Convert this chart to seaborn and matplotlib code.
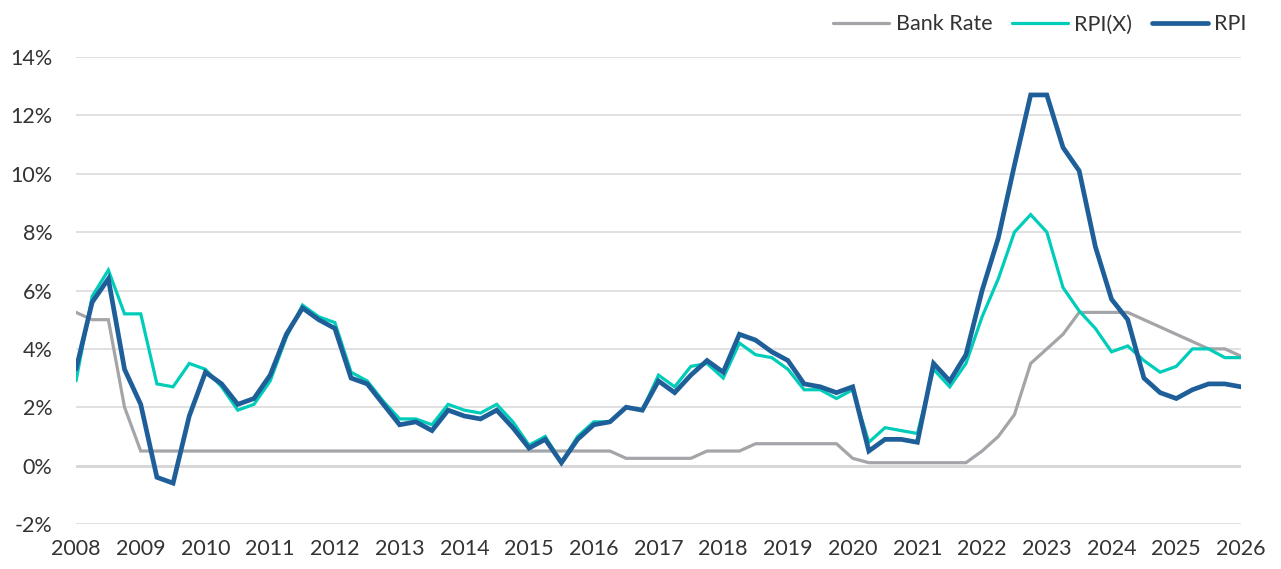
import pandas as pd
import matplotlib.pyplot as plt
import seaborn as sns

sns.set_style("white")
plt.rcParams['font.family'] = ['Lato', 'DejaVu Sans']

# quarterly values, 2008 Q1 .. 2026 Q1
bank_rate = [5.25, 5.0, 5.0, 2.0, 0.5, 0.5, 0.5, 0.5, 0.5, 0.5, 0.5, 0.5, 0.5, 0.5, 0.5, 0.5,
             0.5, 0.5, 0.5, 0.5, 0.5, 0.5, 0.5, 0.5, 0.5, 0.5, 0.5, 0.5, 0.5, 0.5, 0.5, 0.5,
             0.5, 0.5, 0.25, 0.25, 0.25, 0.25, 0.25, 0.5, 0.5, 0.5, 0.75, 0.75, 0.75, 0.75,
             0.75, 0.75, 0.25, 0.1, 0.1, 0.1, 0.1, 0.1, 0.1, 0.1, 0.5, 1.0, 1.75, 3.5, 4.0,
             4.5, 5.25, 5.25, 5.25, 5.25, 5.0, 4.75, 4.5, 4.25, 4.0, 4.0, 3.75]
rpix = [2.9, 5.8, 6.7, 5.2, 5.2, 2.8, 2.7, 3.5, 3.3, 2.7, 1.9, 2.1, 2.9, 4.4, 5.5, 5.1,
        4.9, 3.2, 2.9, 2.2, 1.6, 1.6, 1.4, 2.1, 1.9, 1.8, 2.1, 1.5, 0.7, 1.0, 0.1, 1.0,
        1.5, 1.5, 2.0, 1.9, 3.1, 2.7, 3.4, 3.5, 3.0, 4.2, 3.8, 3.7, 3.3, 2.6, 2.6, 2.3,
        2.6, 0.8, 1.3, 1.2, 1.1, 3.3, 2.7, 3.5, 5.1, 6.4, 8.0, 8.6, 8.0, 6.1, 5.3, 4.7,
        3.9, 4.1, 3.6, 3.2, 3.4, 4.0, 4.0, 3.7, 3.7]
rpi = [3.3, 5.6, 6.4, 3.3, 2.1, -0.4, -0.6, 1.7, 3.2, 2.8, 2.1, 2.3, 3.1, 4.5, 5.4, 5.0,
       4.7, 3.0, 2.8, 2.1, 1.4, 1.5, 1.2, 1.9, 1.7, 1.6, 1.9, 1.3, 0.6, 0.9, 0.1, 0.9,
       1.4, 1.5, 2.0, 1.9, 2.9, 2.5, 3.1, 3.6, 3.2, 4.5, 4.3, 3.9, 3.6, 2.8, 2.7, 2.5,
       2.7, 0.5, 0.9, 0.9, 0.8, 3.5, 2.9, 3.8, 6.0, 7.8, 10.3, 12.7, 12.7, 10.9, 10.1, 7.5,
       5.7, 5.0, 3.0, 2.5, 2.3, 2.6, 2.8, 2.8, 2.7]
year_labels = [str(y) for y in range(2008, 2027)]

series_names = ['Bank Rate', 'RPI(X)', 'RPI']
colors = {'Bank Rate': '#A3A5A8', 'RPI(X)': '#00CDB9', 'RPI': '#1F5F99'}
widths = {'Bank Rate': 2.3, 'RPI(X)': 2.3, 'RPI': 3.4}

df = pd.DataFrame({'q': range(len(rpi)), 'Bank Rate': bank_rate, 'RPI(X)': rpix, 'RPI': rpi})
long_df = df.melt(id_vars='q', var_name='series', value_name='value')

fig = plt.figure(figsize=(12.81, 5.69), dpi=100)
ax = fig.add_axes([76 / 1281, 1 - 524 / 569, (1241 - 76) / 1281, (524 - 57) / 569])

for name in series_names:
    sns.lineplot(data=long_df[long_df['series'] == name], x='q', y='value', ax=ax,
                 color=colors[name], linewidth=widths[name], label=name,
                 solid_capstyle='round', solid_joinstyle='miter')

ax.set_xlim(0, len(rpi) - 1)
ax.set_ylim(-2, 14)
ax.set_xticks(range(0, len(rpi), 4))
ax.set_xticklabels(year_labels)
ax.set_yticks(range(-2, 15, 2))
ax.set_yticklabels([f'{v}%' for v in range(-2, 15, 2)])
ax.set_xlabel('')
ax.set_ylabel('')
ax.tick_params(axis='both', length=0, labelsize=15.5, labelcolor='#333333')
ax.tick_params(axis='y', pad=17)
ax.tick_params(axis='x', pad=11)

ax.grid(axis='y', color='#D9D9D9', linewidth=1.1)
ax.set_axisbelow(True)
ax.axhline(0, color='#D4D4D4', linewidth=2.0, zorder=0.5)
for s in ax.spines.values():
    s.set_visible(False)

ax.get_legend().remove()
handles, labels = ax.get_legend_handles_labels()
fig.legend(handles, labels, loc='upper right', bbox_to_anchor=(1266 / 1281, 1 + 5 / 569),
           ncol=3, frameon=False, fontsize=15.5, handlelength=2.6, handletextpad=0.3,
           columnspacing=0.9, labelcolor='#333333')

fig.savefig('out.png', dpi=100)
